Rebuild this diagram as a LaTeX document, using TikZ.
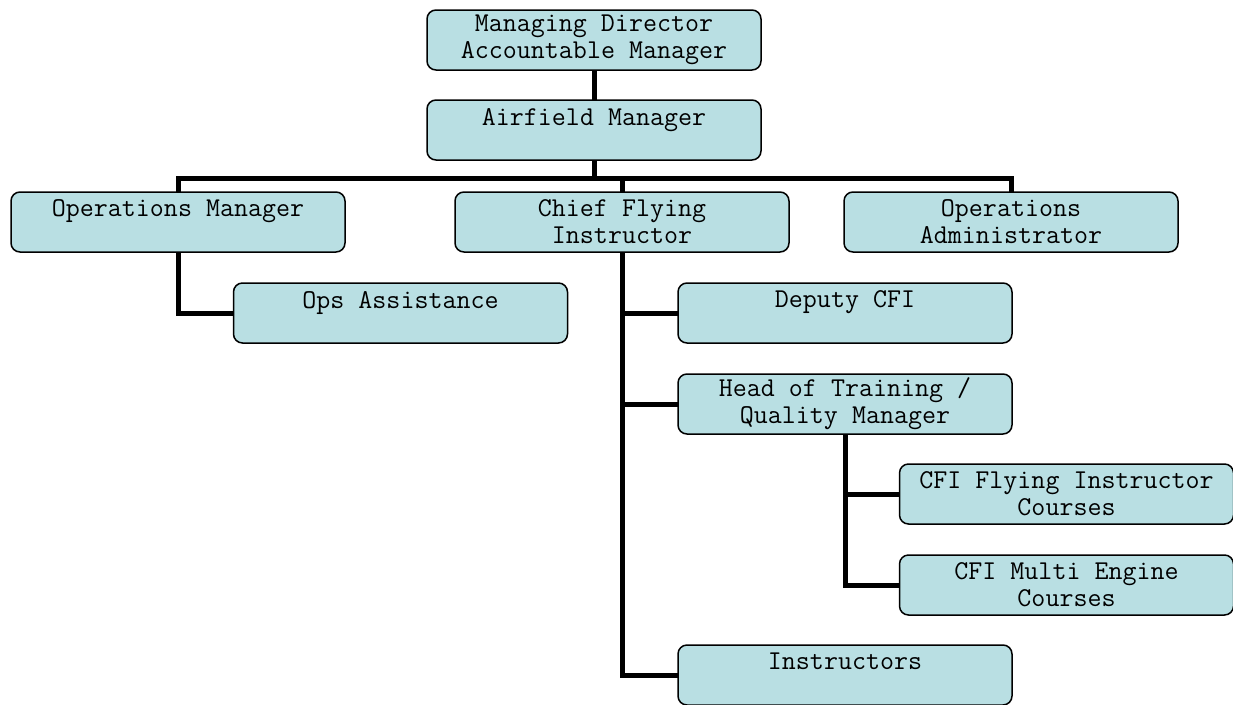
\documentclass[tikz,border=0pt]{standalone}
\usepackage{fontspec}
\usetikzlibrary{positioning}
\definecolor{boxblue}{RGB}{185,223,227}
\begin{document}
\begin{tikzpicture}[x=1pt, y=-1pt,
		unit/.style = {draw, line width=1.5pt, rounded corners=9pt, fill=boxblue, minimum width=334pt, minimum height=60pt, inner sep=2pt, outer sep=0pt, align=center, font=\ttfamily\fontsize{27.2}{27}\selectfont},
		link/.style = {line width=5pt}]
		\useasboundingbox (0,0) rectangle (1233,704);
		%% NODES
		% Top
		\node[unit] (md) at (594,40) {Managing Director\\Accountable Manager};
		\node[unit, below=30pt of md] (am) {Airfield Manager\\\mbox{}};
		\coordinate[below=18pt of am] (bus); % Branch point
		% Second row
		\node[unit, below=32pt of am, xshift=28pt] (cfi) {Chief Flying\\Instructor};
		\node[unit, left=110pt of cfi] (om) {Operations Manager\\\mbox{}};
		\node[unit, right=55pt of cfi] (oa) {Operations\\Administrator};
		% Operations
		\node[unit, below=31pt of om, xshift=222.5pt] (ops) {Ops Assistance\\\mbox{}};
		% Flying
		\node[unit, below=31pt of cfi, xshift=223pt] (dep) {Deputy CFI\\\mbox{}};
		\node[unit, below=31pt of dep] (hot) {Head of Training /\\Quality Manager};
		\node[unit, below=30pt of hot, xshift=221.5pt] (fic) {CFI Flying Instructor\\Courses};
		\node[unit, below=31pt of fic] (mec) {CFI Multi Engine\\Courses};
		\node[unit, below=30pt of mec, xshift=-221.5pt] (ins) {Instructors\\\mbox{}};
		%% LINKS
		% Top
		\draw[link] (md) -- (am);
		\draw[link] (am) -- (bus);
		\draw[link] (om.north) |- (bus) -| (oa.north);
		\draw[link] (cfi.north |- bus) -- (cfi.north);
		% Operations
		\draw[link] (om.south) |- (ops.west);
		% Flying
		\draw[link] (cfi.south) |- (dep.west);
		\draw[link] (cfi.south) |- (hot.west);
		\draw[link] (cfi.south) |- (ins.west);
		\draw[link] (hot.south) |- (fic.west);
		\draw[link] (hot.south) |- (mec.west);
	\end{tikzpicture}
\end{document}
